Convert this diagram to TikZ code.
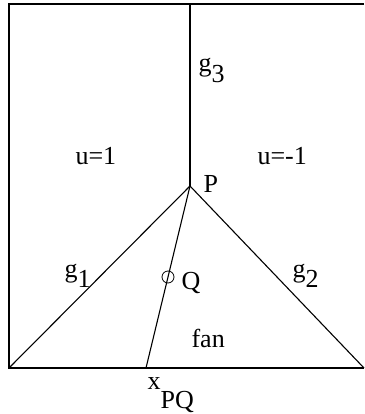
\documentclass[tikz,border=0pt]{standalone}
\usepackage{fontspec}
\setmainfont{Liberation Serif}
\usetikzlibrary{calc}
\newcommand{\lowsub}[3][0.4em]{#2\raisebox{-#1}{#3}}

\begin{document}
\begin{tikzpicture}[x=1pt,y=-1pt,line width=1.1pt,
  lbl/.style={anchor=base west,inner sep=0pt,font=\fontsize{26}{30}\selectfont}]
  \useasboundingbox (0,0) rectangle (364,414);
  % frame and the point P
  \coordinate (TL) at (9,4);
  \coordinate (TR) at (364,4);
  \coordinate (BL) at (9,368);
  \coordinate (BR) at (364,368);
  \coordinate (T) at (190,4);
  \coordinate (P) at (190,186);
  \coordinate (X) at (146,368);
  \draw (TR) -- (TL) -- (BL) -- (BR);
  \draw (T) -- (P);
  \draw (BL) -- (P) -- (BR);
  \draw (P) -- (X);
  \node[circle,draw,inner sep=0pt,minimum size=12pt,line width=0.8pt] (Q) at ($(P)!0.5!(X)$) {};
  % labels
  \node[lbl] (g3) at (198,72) {\lowsub{g}{3}};
  \node[lbl] (ul) at (75,164) {u=1};
  \node[lbl] (ur) at (257,164) {u=-1};
  \node[lbl] (Pl) at (203,192) {P};
  \node[lbl] (g1) at (64,277) {\lowsub{g}{1}};
  \node[lbl] (g2) at (292,277) {\lowsub{g}{2}};
  \node[lbl] (Ql) at (181,289) {Q};
  \node[lbl] (fan) at (191,347) {fan};
  \node[lbl] (xpq) at (147,389) {\lowsub[0.75em]{x}{PQ}};
\end{tikzpicture}
\end{document}
